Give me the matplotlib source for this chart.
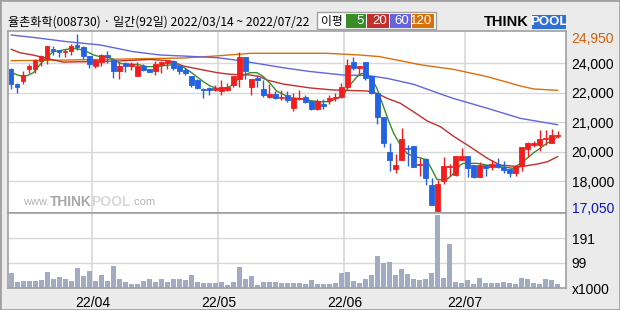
import numpy as np
import matplotlib.pyplot as plt
from matplotlib.patches import Rectangle
from matplotlib.transforms import ScaledTranslation

# daily OHLC, 2022/03/14 ~ 2022/07/22 (92 trading days)
opens = [23400, 22700, 22850, 23400, 23400, 23750, 23850, 24300, 24250, 24150,
         24200, 24450, 24350, 23950, 23500, 23700, 24000, 23800, 23300, 23650,
         23500, 23050, 23500, 23400, 23300, 23550, 23650, 23750, 23500, 23350,
         23050, 22900, 22500, 22550, 22450, 22400, 22450, 22650, 22950, 23900,
         22600, 23000, 22500, 22150, 22250, 22100, 22200, 21650, 22050, 22150,
         21950, 21600, 21800, 22000, 22100, 22150, 22600, 23700, 23450, 23700,
         23050, 22300, 21250, 19650, 18900, 19300, 19850, 19950, 19100, 19350,
         18200, 17050, 18350, 19000, 18650, 19300, 19500, 19100, 18550, 19100,
         19000, 19150, 19000, 18900, 18750, 19050, 19800, 20000, 20000, 20250,
         20050, 20400]
highs = [23450, 22750, 23300, 23600, 23850, 24000, 24400, 24400, 24250, 24300,
         24500, 24950, 24400, 23950, 23850, 24050, 24200, 23800, 23700, 23700,
         23700, 23700, 23600, 23400, 23750, 23750, 23800, 23800, 23500, 23450,
         23050, 22950, 22550, 22600, 22650, 22900, 22750, 23050, 24150, 23900,
         22950, 23100, 22900, 22700, 22400, 22450, 22400, 22300, 22450, 22200,
         22000, 22050, 22050, 22200, 22300, 22750, 23850, 23900, 23500, 23700,
         23050, 22300, 21250, 20050, 19600, 20750, 20000, 19950, 19400, 19400,
         18500, 18400, 19450, 19150, 19500, 19850, 19500, 19100, 19200, 19100,
         19300, 19400, 19250, 18950, 19100, 19900, 20100, 20150, 20650, 20650,
         20700, 20600]
lows = [22500, 22300, 22700, 23200, 23200, 23500, 23600, 24000, 23900, 23900,
        24000, 24250, 23850, 23450, 23450, 23500, 23650, 23000, 22950, 23250,
        23350, 23050, 23300, 23250, 23100, 23200, 23400, 23350, 23150, 23100,
        22600, 22500, 22100, 22200, 22400, 22200, 22400, 22600, 22600, 22950,
        22200, 22600, 22150, 22100, 22050, 22000, 21900, 21500, 22000, 21850,
        21550, 21550, 21600, 21800, 21950, 22100, 22500, 23350, 23100, 22900,
        22250, 20900, 19900, 18800, 18750, 19300, 19050, 19000, 18600, 18200,
        17300, 17050, 18250, 18600, 18600, 19300, 18550, 18500, 18550, 18600,
        18850, 18950, 18750, 18550, 18600, 18800, 19450, 19900, 19700, 20000,
        20050, 20300]
closes = [22700, 22600, 23100, 23500, 23800, 23950, 24400, 24200, 24150, 24200,
          24400, 24350, 23950, 23600, 23800, 24000, 23900, 23300, 23500, 23500,
          23600, 23500, 23350, 23250, 23600, 23700, 23750, 23450, 23300, 23200,
          22650, 22550, 22450, 22450, 22550, 22600, 22600, 23050, 23900, 23300,
          22950, 22900, 22200, 22250, 22100, 22150, 22000, 22100, 22100, 21900,
          21600, 21950, 21750, 22100, 22150, 22600, 23550, 23450, 23500, 23000,
          22300, 21250, 20050, 19300, 19100, 20250, 19800, 19000, 19150, 18500,
          17300, 18250, 19050, 19050, 19500, 19500, 18950, 18550, 19100, 18950,
          19150, 19000, 18850, 18750, 19050, 19900, 20050, 20050, 20250, 20300,
          20450, 20450]
# volume, x1000
volume = [57, 22, 26, 29, 29, 33, 61, 36, 42, 36, 29, 79, 48, 68, 29, 52, 29, 87,
          36, 25, 17, 17, 29, 36, 25, 36, 25, 36, 36, 33, 52,
          25, 21, 21, 21, 25, 13, 25, 83, 36, 48, 13, 25, 25, 25, 21, 21, 21,
          21, 17, 33, 17, 17, 17, 21, 60, 64, 29, 21, 36, 52, 126,
          96, 103, 52, 75, 56, 35, 33, 36, 60, 286, 40, 173, 25, 21, 33, 17,
          40, 21, 21, 21, 25, 21, 17, 40, 36, 21, 17, 36, 33, 17]

# moving averages (day index, price)
ma5_x = [0.3, 1.4, 2.6, 3.7, 4.5, 5.3, 6.2, 7, 8.1, 9.2, 10.3, 11.4, 12.6, 13.7,
         14.8, 15.9, 17, 18.1, 19.2, 20.3, 21.4, 22.6, 24.2, 26.4, 27.6, 28.7,
         29.8, 30.9, 32, 33.1, 34.2, 35.3, 36.4, 37.6, 38.7, 39.8, 40.9, 42,
         43.1, 44.2, 45.3, 46.4, 47.6, 49.2, 49.8, 51.4, 53.1, 54.2, 55.3, 56.4,
         57.6, 58.4, 59.2, 60.1, 60.9, 62, 62.8, 63.7, 64.8, 65.9, 67, 68.1,
         69.2, 70.1, 70.9, 72, 72.8, 73.7, 74.8, 75.3, 77.6, 79.2, 80.8, 82.4,
         83.6, 84.8, 85.9, 87, 88.1, 89.2, 90.3, 91]
ma5_v = [23190, 23085, 23085, 23220, 23490, 23755, 23965, 24160, 24205, 24265,
         24310, 24265, 24160, 24010, 23935, 23935, 23820, 23640, 23595, 23595,
         23565, 23490, 23490, 23565, 23565, 23460, 23265, 23040, 22815, 22625,
         22520, 22500, 22590, 22890, 23115, 23220, 23220, 23040, 22745, 22400,
         22250, 22100, 22070, 22025, 21965, 21920, 21920, 22070, 22220, 22665,
         23040, 23190, 23115, 22925, 22520, 21695, 21100, 20505, 19980, 19610,
         19460, 19415, 19310, 18865, 18445, 18415, 18490, 18715, 19085, 19160,
         19160, 19085, 19040, 18985, 18940, 19160, 19385, 19635, 19835, 20060,
         20205, 20355]
ma20_x = [0, 1.4, 3.6, 5.9, 8.6, 12, 17.6, 23.1, 26.4, 28.6, 31.4, 34.3, 36.5,
          39.8, 41.4, 42.6, 45.3, 49.8, 53.6, 59.3, 60.9, 62.6, 64.8, 67, 69.3,
          71.5, 73.6, 76.4, 79.3, 81.4, 84.8, 87.6, 89.3, 91]
ma20_v = [24265, 24115, 24010, 23860, 23695, 23710, 23740, 23810, 23755, 23520,
          23370, 23220, 23145, 23115, 23040, 22890, 22710, 22535, 22445, 22400,
          22295, 22070, 21850, 21470, 21055, 20800, 20385, 19905, 19385, 19085,
          19010, 19130, 19235, 19460]
ma60_x = [0, 3.6, 9.3, 14.8, 20.3, 24.8, 28.6, 34.3, 36.5, 39.8, 45.3, 49.8,
          55.3, 59.3, 62.6, 67, 71.5, 73.6, 79.3, 84.8, 88.1, 91]
ma60_v = [24905, 24800, 24605, 24460, 24160, 24010, 23965, 23890, 23815, 23685,
          23440, 23270, 23115, 23095, 22965, 22700, 22265, 22070, 21625, 21175,
          21025, 20890]
ma120_x = [0, 9.3, 22, 28.6, 34, 39.8, 49.8, 52.6, 58.1, 61.4, 64.8, 68.1, 73.6,
           79.3, 84.8, 87, 91]
ma120_v = [23755, 23785, 23845, 23875, 23965, 24085, 24085, 24085, 24010, 23935,
           23755, 23575, 23370, 23040, 22625, 22490, 22430]

month_idx = [14, 35, 56, 76]          # first trading day of each month
month_labels = ["22/04", "22/05", "22/06", "22/07"]
price_labels = ["24,000", "22,000", "21,000", "20,000", "18,000"]
vol_labels = ["99", "191"]

RED, BLUE = "#f01e1e", "#2462e0"
C5, C20, C60, C120 = "#3a8c28", "#c0302c", "#6464dc", "#d8700a"
GRID = "#d8d8d8"
EDGE = "#a0a0a0"
NARROW = ["Liberation Sans Narrow", "Liberation Sans", "DejaVu Sans"]
SANS = ["Liberation Sans", "DejaVu Sans"]
KR = ["Noto Sans CJK KR", "DejaVu Sans"]

W, H = 620, 310
fig = plt.figure(figsize=(6.2, 3.1), dpi=100, facecolor="#ebebeb")


def box(x0, y0, x1, y1):
    # pixel box (top-left origin) -> figure rect
    return [x0 / W, 1 - y1 / H, (x1 - x0) / W, (y1 - y0) / H]


ax = fig.add_axes(box(8, 31, 566, 213))
axv = fig.add_axes(box(8, 213, 566, 288), sharex=ax)

x = np.arange(len(closes))
o, h, l, c = map(np.array, (opens, highs, lows, closes))
up = c >= o
cols = np.where(up, RED, BLUE)

p_hi, p_lo = h.max(), l.min()
span = p_hi - p_lo
ax.set_ylim(p_lo - span * 0.014, p_hi + span * 0.017)
ax.set_xlim(-0.55, 92.4)

grid_vals = np.linspace(p_hi, p_lo, 7)[1:-1]
for g in grid_vals:
    ax.axhline(g, color=GRID, lw=1, zorder=0)
for m in month_idx:
    ax.axvline(m - 0.5, color=GRID, lw=1.2, zorder=0)
    axv.axvline(m - 0.5, color=GRID, lw=1.2, zorder=0)

# moving averages
ax.plot(ma120_x, ma120_v, color=C120, lw=1, zorder=2)
ax.plot(ma60_x, ma60_v, color=C60, lw=1, zorder=2)
ax.plot(ma20_x, ma20_v, color=C20, lw=1, zorder=2)
ax.plot(ma5_x, ma5_v, color=C5, lw=1, zorder=2)

# candles
ax.vlines(x, l, h, colors=cols, lw=1, zorder=3)
ax.bar(x, c - o, bottom=o, width=0.72, color=cols, edgecolor=cols, lw=0.6, zorder=4)

# price axis labels on the right
ax.yaxis.tick_right()
ax.set_yticks([p_hi] + list(grid_vals) + [p_lo])
ax.set_yticklabels(["24,950"] + price_labels + ["17,050"], family=NARROW, fontsize=10)
ax.tick_params(axis="y", length=0, pad=4)
ax.tick_params(axis="x", length=0, labelbottom=False)
ylabs = ax.get_yticklabels()
ylabs[0].set_color("#d06010")
ylabs[-1].set_color("#0a14c8")
ylabs[0].set_transform(ylabs[0].get_transform() + ScaledTranslation(0, -3.5 / 100, fig.dpi_scale_trans))
ylabs[-1].set_transform(ylabs[-1].get_transform() + ScaledTranslation(0, 3.5 / 100, fig.dpi_scale_trans))

# volume
vmax = 292
axv.set_ylim(0, vmax)
axv.bar(x, volume, width=0.83, color="#a2abc4", zorder=2)
for k in (1, 2):
    axv.axhline(vmax * k / 3, color=GRID, lw=1, zorder=0)
axv.yaxis.tick_right()
axv.set_yticks([0, vmax / 3, 2 * vmax / 3])
axv.set_yticklabels(["x1000"] + vol_labels, family=NARROW, fontsize=10)
axv.set_xticks(np.array(month_idx) - 0.5)
axv.set_xticklabels(month_labels, family=NARROW, fontsize=10)
axv.tick_params(length=0)
axv.tick_params(axis="y", pad=4)
axv.tick_params(axis="x", pad=6)

for a in (ax, axv):
    a.set_facecolor("white")
    for s in a.spines.values():
        s.set_color(EDGE)
        s.set_linewidth(1.2)

# watermark, pieces chained one after another
t = fig.text(23 / W, 1 - 202 / H, "www.", color="#b4b4b4", family=SANS, fontsize=8, va="center")
for txt, col, size, wt in [("THINK", "#a8a8a8", 10, "bold"), ("POOL", "#d8d8d8", 10, "bold"),
                           (".com", "#b4b4b4", 8, "normal")]:
    t = fig.add_artist(plt.Annotation(txt, xy=(1, 0.5), xycoords=t, color=col, family=SANS,
                                      fontsize=size, fontweight=wt, va="center", ha="left"))

# title
fig.text(8 / W, 1 - 22.5 / H, "율촌화학(008730) · 일간(92일) 2022/03/14 ~ 2022/07/22",
         family=KR, fontsize=8.7, va="center", ha="left")

# moving-average legend
fig.patches.append(Rectangle((316.7 / W, 1 - 29.3 / H), 119.3 / W, 17 / H, transform=fig.transFigure,
                             facecolor="white", edgecolor=EDGE, lw=1))
fig.text(321 / W, 1 - 21 / H, "이평", family=KR, fontsize=8.5, va="center")
for (x0, x1), col, lab in zip([(346, 365.7), (366.7, 388.7), (389.7, 410.7), (411.7, 433.7)],
                              [C5, C20, C60, C120], ["5", "20", "60", "120"]):
    fig.patches.append(Rectangle((x0 / W, 1 - 27.7 / H), (x1 - x0) / W, 13.4 / H,
                                 transform=fig.transFigure, facecolor=col, edgecolor="none"))
    fig.text((x1 - 1.5) / W, 1 - 21 / H, lab, color="white", family=NARROW, fontsize=9.5,
             va="center", ha="right")

# logo
fig.text(484 / W, 1 - 22.5 / H, "THINK", family=SANS, fontsize=10.5, fontweight="bold", va="center")
fig.patches.append(Rectangle((532 / W, 1 - 29.3 / H), 34 / W, 14.3 / H, transform=fig.transFigure,
                             facecolor="#2f6fd6", edgecolor="none"))
fig.text(549 / W, 1 - 22.3 / H, "POOL", color="white", family=SANS,
         fontsize=9.5, fontweight="bold", va="center", ha="center")

# outer frame
fig.patches.append(Rectangle((0, 0), 1, 1, transform=fig.transFigure, fill=False,
                             edgecolor=EDGE, lw=2))

fig.savefig("out.png", dpi=100, facecolor=fig.get_facecolor())
